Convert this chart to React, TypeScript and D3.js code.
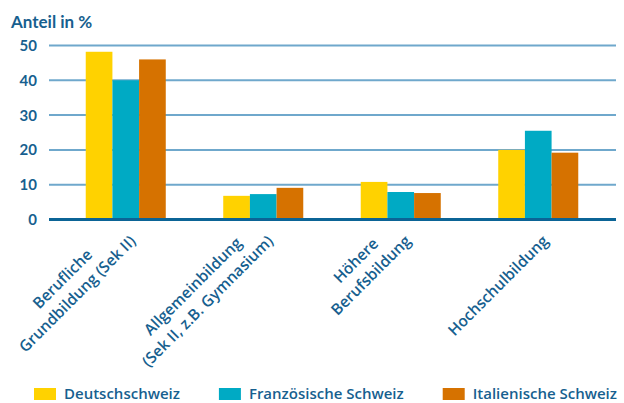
import { useEffect, useRef } from 'react';
import * as d3 from 'd3';

// Chart data
const categories = [
  ['Berufliche', 'Grundbildung (Sek II)'],
  ['Allgemeinbildung', '(Sek II, z.B. Gymnasium)'],
  ['Höhere', 'Berufsbildung'],
  ['Hochschulbildung'],
];
const seriesNames = ['Deutschschweiz', 'Französische Schweiz', 'Italienische Schweiz'];
const deutschschweiz = [48.2, 6.8, 10.8, 20.0];
const franzSchweiz = [40.0, 7.3, 7.9, 25.5];
const italSchweiz = [46.0, 9.1, 7.6, 19.2];
const yTicks = [0, 10, 20, 30, 40, 50];
const yTitle = 'Anteil in %';

const colors = ['#FFD200', '#00AAC4', '#D67200'];
const textColor = '#175F8F';
const font = 'Lato, "Open Sans", sans-serif';
const labelFont = '"Open Sans", Lato, sans-serif';

export default function App() {
  const svgRef = useRef<SVGSVGElement | null>(null);

  useEffect(() => {
    const svg = d3.select(svgRef.current);
    svg.selectAll('*').remove();

    const values = [deutschschweiz, franzSchweiz, italSchweiz];
    const keys = categories.map((c) => c.join(' '));

    // scales
    const x0 = d3
      .scaleBand()
      .domain(keys)
      .range([57, 607])
      .paddingInner(0.418)
      .paddingOuter(0.209);
    const x1 = d3
      .scaleBand()
      .domain(seriesNames)
      .range([0, x0.bandwidth()]);
    const y = d3.scaleLinear().domain([0, 50]).range([219.5, 45.5]);

    // title
    svg
      .append('text')
      .attr('x', 11)
      .attr('y', 28)
      .attr('fill', textColor)
      .style('font', `bold 17px ${font}`)
      .text(yTitle);

    // grid lines
    svg
      .selectAll('.grid')
      .data(yTicks.filter((t) => t > 0))
      .enter()
      .append('line')
      .attr('x1', 49)
      .attr('x2', 616)
      .attr('y1', (d) => y(d))
      .attr('y2', (d) => y(d))
      .attr('stroke', '#6FA8CC')
      .attr('stroke-width', 2);

    // tick labels
    svg
      .selectAll('.ytick')
      .data(yTicks)
      .enter()
      .append('text')
      .attr('x', 37)
      .attr('y', (d) => y(d))
      .attr('dy', '0.36em')
      .attr('text-anchor', 'end')
      .attr('fill', textColor)
      .style('font', `bold 15px ${font}`)
      .text((d) => String(d));

    // bars
    const groups = svg
      .selectAll('.group')
      .data(keys)
      .enter()
      .append('g')
      .attr('transform', (d) => `translate(${x0(d)},0)`);

    groups
      .selectAll('rect')
      .data((_, i) => seriesNames.map((s, j) => ({ s, v: values[j][i], j })))
      .enter()
      .append('rect')
      .attr('x', (d) => x1(d.s)!)
      .attr('width', x1.bandwidth())
      .attr('y', (d) => y(d.v))
      .attr('height', (d) => y(0) - y(d.v))
      .attr('fill', (d) => colors[d.j]);

    // baseline
    svg
      .append('line')
      .attr('x1', 49)
      .attr('x2', 616)
      .attr('y1', y(0))
      .attr('y2', y(0))
      .attr('stroke', '#0B6496')
      .attr('stroke-width', 3);

    // category labels, rotated, lines centered on each other
    const lh = 21;
    categories.forEach((lines, i) => {
      const cx = x0(keys[i])! + x0.bandwidth() / 2;
      const g = svg
        .append('g')
        .attr('transform', `translate(${cx + 11},242) rotate(-45)`);
      const texts = lines.map((line, k) =>
        g
          .append('text')
          .attr('y', (k - (lines.length - 1)) * lh)
          .attr('text-anchor', 'middle')
          .attr('fill', textColor)
          .style('font', `600 15.5px ${labelFont}`)
          .text(line)
      );
      const maxW = d3.max(texts, (t) => t.node()!.getComputedTextLength()) ?? 0;
      texts.forEach((t) => t.attr('x', -maxW / 2));
    });

    // legend
    let lx = 34;
    seriesNames.forEach((name, i) => {
      svg
        .append('rect')
        .attr('x', lx)
        .attr('y', 388)
        .attr('width', 22)
        .attr('height', 12)
        .attr('fill', colors[i]);
      const t = svg
        .append('text')
        .attr('x', lx + 30)
        .attr('y', 399)
        .attr('fill', textColor)
        .style('font', `600 15px ${labelFont}`)
        .text(name);
      lx += 30 + t.node()!.getComputedTextLength() + 39;
    });
  }, []);

  return (
    <div style={{ position: 'absolute', left: 0, top: 0, background: '#fff' }}>
      <svg ref={svgRef} width={624} height={403} style={{ display: 'block' }}></svg>
    </div>
  );
}
